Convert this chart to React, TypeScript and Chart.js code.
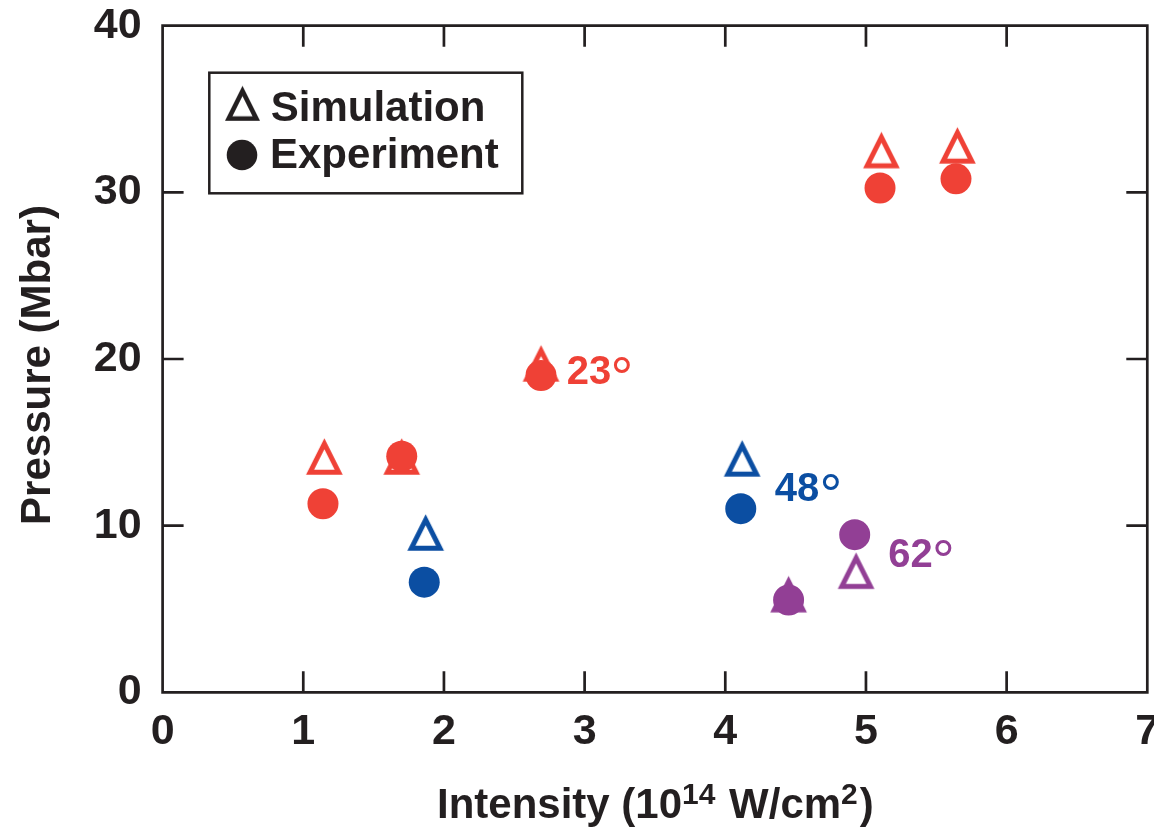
import React, { useEffect, useRef } from 'react';
import { Chart, registerables } from 'chart.js';

Chart.register(...registerables);

// ---------- data ----------
const xTickValues = [0, 1, 2, 3, 4, 5, 6, 7];
const yTickValues = [0, 10, 20, 30, 40];

const redSimX = [1.15, 1.70, 2.69, 5.11, 5.65];
const redSimY = [14.15, 14.15, 19.74, 32.54, 32.82];
const redExpX = [1.14, 1.70, 2.69, 5.10, 5.64];
const redExpY = [11.31, 14.16, 19.01, 30.26, 30.81];

const blueSimX = [1.87, 4.12];
const blueSimY = [9.59, 14.04];
const blueExpX = [1.86, 4.11];
const blueExpY = [6.61, 11.02];

const purpleSimX = [4.45, 4.93];
const purpleSimY = [5.89, 7.30];
const purpleExpX = [4.45, 4.92];
const purpleExpY = [5.54, 9.46];

const legendLabels = ['Simulation', 'Experiment'];

const angleTexts = ['23', '48', '62'];
const angleAnchorX = [2.881, 4.352, 5.165];
const angleAnchorY = [18.5, 11.48, 7.54];

const xTitleParts = [
  { t: 'Intensity (10', sup: false },
  { t: '14', sup: true },
  { t: ' W/cm', sup: false },
  { t: '2', sup: true },
  { t: ')', sup: false },
];
const yTitle = 'Pressure (Mbar)';

// ---------- styles ----------
const INK = '#231f20';
const RED = '#ef4136';
const BLUE = '#0b4ea2';
const PURPLE = '#923f95';
const FONT = '"Liberation Sans", Arial, Helvetica, sans-serif';
const angleColors = [RED, BLUE, PURPLE];

function makeTriangle(color: string, size: number, t: number): HTMLCanvasElement {
  const c = document.createElement('canvas');
  const W = Math.ceil(size) + 2;
  c.width = W;
  c.height = W;
  const g = c.getContext('2d')!;
  const cx = W / 2;
  const cy = W / 2;
  const h = size / 2;
  g.beginPath();
  g.moveTo(cx, cy - h);
  g.lineTo(cx + h, cy + h);
  g.lineTo(cx - h, cy + h);
  g.closePath();
  const sinA = 0.5 / Math.sqrt(1.25);
  const innerTop = cy - h + t / sinA;
  const innerBottom = cy + h - t;
  const ihw = (innerBottom - innerTop) * 0.5;
  g.moveTo(cx, innerTop);
  g.lineTo(cx - ihw, innerBottom);
  g.lineTo(cx + ihw, innerBottom);
  g.closePath();
  g.fillStyle = color;
  g.fill('evenodd');
  return c;
}

function pts(xs: number[], ys: number[]) {
  return xs.map((x, i) => ({ x, y: ys[i] }));
}

function inkText(ctx: CanvasRenderingContext2D, text: string, left: number, baseline: number) {
  const m = ctx.measureText(text);
  ctx.fillText(text, left + m.actualBoundingBoxLeft, baseline);
  return left + m.actualBoundingBoxLeft + m.actualBoundingBoxRight;
}

const framePlugin = {
  id: 'frame',
  beforeDatasetsDraw(chart: any) {
    const { ctx, chartArea: a, scales } = chart;
    const x = scales.x;
    const y = scales.y;
    const TL = 21;
    ctx.save();
    ctx.strokeStyle = INK;
    ctx.lineWidth = 2.7;
    ctx.lineCap = 'butt';
    ctx.beginPath();
    ctx.rect(a.left, a.top, a.right - a.left, a.bottom - a.top);
    x.ticks.forEach((t: any) => {
      const px = x.getPixelForValue(t.value);
      ctx.moveTo(px, a.top);
      ctx.lineTo(px, a.top + TL);
      ctx.moveTo(px, a.bottom);
      ctx.lineTo(px, a.bottom - TL);
    });
    y.ticks.forEach((t: any) => {
      const py = y.getPixelForValue(t.value);
      ctx.moveTo(a.left, py);
      ctx.lineTo(a.left + TL, py);
      ctx.moveTo(a.right, py);
      ctx.lineTo(a.right - TL, py);
    });
    ctx.stroke();
    ctx.restore();
  },
  afterDraw(chart: any) {
    const { ctx, scales } = chart;
    const x = scales.x;
    const y = scales.y;
    ctx.save();
    ctx.textAlign = 'left';
    ctx.textBaseline = 'alphabetic';

    // legend box
    ctx.strokeStyle = INK;
    ctx.lineWidth = 2.5;
    ctx.strokeRect(209.3, 72.7, 313, 120.6);
    const tri = makeTriangle(INK, 35, 4.6);
    ctx.drawImage(tri, 242.5 - tri.width / 2, 103.3 - tri.height / 2);
    ctx.fillStyle = INK;
    ctx.beginPath();
    ctx.arc(242, 155, 15.3, 0, Math.PI * 2);
    ctx.fill();
    ctx.font = `bold 42px ${FONT}`;
    inkText(ctx, legendLabels[0], 271.7, 120.7);
    inkText(ctx, legendLabels[1], 272, 168);

    // angle labels
    angleTexts.forEach((txt, i) => {
      const px = x.getPixelForValue(angleAnchorX[i]);
      const py = y.getPixelForValue(angleAnchorY[i]);
      ctx.fillStyle = angleColors[i];
      ctx.font = `bold 40px ${FONT}`;
      const right = inkText(ctx, txt, px, py);
      ctx.font = `100px ${FONT}`;
      const d100 = ctx.measureText('°');
      const w100 = d100.actualBoundingBoxLeft + d100.actualBoundingBoxRight;
      const size = (100 * 16.5) / w100;
      ctx.font = `${size.toFixed(1)}px ${FONT}`;
      const d = ctx.measureText('°');
      ctx.fillText('°', right + 3.5 + d.actualBoundingBoxLeft, py - 27 + d.actualBoundingBoxAscent);
    });

    // x title
    ctx.fillStyle = INK;
    let cx = 439;
    const base = 818;
    xTitleParts.forEach((p, i) => {
      ctx.font = p.sup ? `bold 30px ${FONT}` : `bold 42px ${FONT}`;
      const m = ctx.measureText(p.t);
      const startX = i === 0 ? cx + m.actualBoundingBoxLeft : cx;
      ctx.fillText(p.t, startX, p.sup ? base - 14.5 : base);
      cx = startX + m.width + (p.sup ? 2 : 0);
    });

    // y title
    ctx.save();
    ctx.translate(50, 365);
    ctx.rotate(-Math.PI / 2);
    ctx.textAlign = 'center';
    ctx.font = `bold 42px ${FONT}`;
    ctx.fillText(yTitle, 0, 0);
    ctx.restore();

    ctx.restore();
  },
};

export default function App() {
  const ref = useRef<HTMLCanvasElement | null>(null);

  useEffect(() => {
    document.body.style.margin = '0';
    const canvas = ref.current;
    if (!canvas) return;
    const triRed = makeTriangle(RED, 36.7, 5);
    const triBlue = makeTriangle(BLUE, 36.7, 5);
    const triPurple = makeTriangle(PURPLE, 36.7, 5);

    const circle = (label: string, data: any[], color: string) => ({
      label,
      data,
      pointStyle: 'circle',
      pointRadius: 15.5,
      pointBackgroundColor: color,
      pointBorderWidth: 0,
      pointBorderColor: color,
      showLine: false,
    });
    const triangle = (label: string, data: any[], img: HTMLCanvasElement) => ({
      label,
      data,
      pointStyle: img,
      pointRadius: 18,
      pointBorderWidth: 0,
      showLine: false,
    });

    const zeroPad = (s: any) => {
      s.paddingLeft = 0;
      s.paddingRight = 0;
      s.paddingTop = 0;
      s.paddingBottom = 0;
    };

    const chart = new Chart(canvas, {
      type: 'scatter',
      data: {
        datasets: [
          circle('Experiment 23°', pts(redExpX, redExpY), RED),
          circle('Experiment 48°', pts(blueExpX, blueExpY), BLUE),
          circle('Experiment 62°', pts(purpleExpX, purpleExpY), PURPLE),
          triangle('Simulation 23°', pts(redSimX, redSimY), triRed),
          triangle('Simulation 48°', pts(blueSimX, blueSimY), triBlue),
          triangle('Simulation 62°', pts(purpleSimX, purpleSimY), triPurple),
        ] as any,
      },
      options: {
        responsive: false,
        animation: false,
        layout: { autoPadding: false, padding: { left: 0, top: 25.7, right: 6.7, bottom: 0 } },
        plugins: {
          legend: { display: false },
          tooltip: { enabled: false },
        },
        scales: {
          x: {
            type: 'linear',
            min: 0,
            max: 7,
            afterBuildTicks: (s: any) => {
              s.ticks = xTickValues.map((v) => ({ value: v }));
            },
            afterFit: (s: any) => {
              s.height = 134.7;
              zeroPad(s);
            },
            grid: { display: false, drawTicks: false },
            border: { display: false },
            ticks: {
              padding: 14,
              maxRotation: 0,
              autoSkip: false,
              color: INK,
              font: { family: FONT, size: 43, weight: 'bold' },
            },
          },
          y: {
            type: 'linear',
            min: 0,
            max: 40,
            afterBuildTicks: (s: any) => {
              s.ticks = yTickValues.map((v) => ({ value: v }));
            },
            afterFit: (s: any) => {
              s.width = 162.6;
              zeroPad(s);
            },
            grid: { display: false, drawTicks: false },
            border: { display: false },
            ticks: {
              padding: 21,
              autoSkip: false,
              color: INK,
              font: { family: FONT, size: 43, weight: 'bold' },
            },
          },
        },
      } as any,
      plugins: [framePlugin],
    });
    return () => chart.destroy();
  }, []);

  return (
    <div style={{ width: 1154, height: 827, background: '#fff' }}>
      <canvas ref={ref} width={1154} height={827} style={{ display: 'block' }} />
    </div>
  );
}
